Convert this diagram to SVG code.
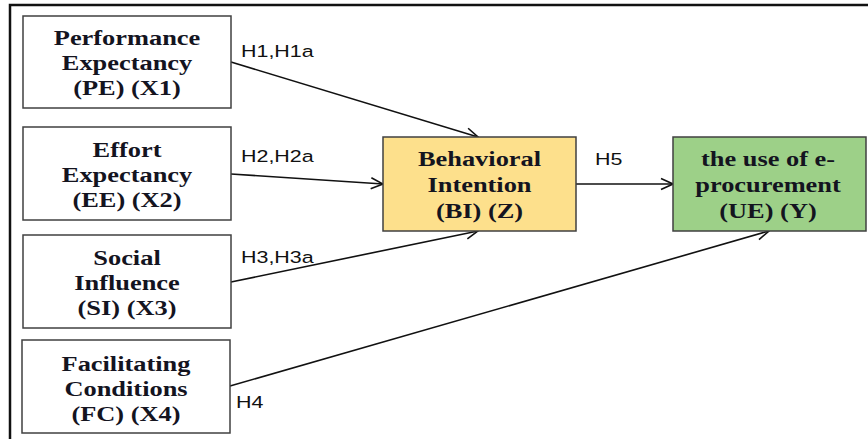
<svg xmlns="http://www.w3.org/2000/svg" width="868" height="439" viewBox="0 0 868 439">
<style>
.box{fill:#ffffff;stroke:#404040;stroke-width:1.5}
.bi{fill:#fde08c;stroke:#404040;stroke-width:1.5}
.ue{fill:#9dd088;stroke:#404040;stroke-width:1.5}
.n{font-family:"Liberation Serif","Times New Roman",serif;font-weight:bold;font-size:22px;fill:#14141f;text-anchor:middle}
.l{font-family:"Liberation Sans",Arial,sans-serif;font-size:16.5px;fill:#111111}
.c{fill:none;stroke:#111111;stroke-width:1.6}
.frame{fill:none;stroke:#111111;stroke-width:2.5}
</style>
<defs>
<marker id="arr" markerUnits="userSpaceOnUse" viewBox="0 0 14 14" refX="13" refY="7" markerWidth="14" markerHeight="14" orient="auto">
<path d="M1,1.5 L13,7 L1,12.5" fill="none" stroke="#111111" stroke-width="1.6"/>
</marker>
</defs>
<path class="frame" d="M10,439 L10,5 L868,5"/>
<g id="connectors">
<line class="c" x1="231" y1="62" x2="478" y2="137" marker-end="url(#arr)"/>
<line class="c" x1="231" y1="174" x2="383" y2="184" marker-end="url(#arr)"/>
<line class="c" x1="231" y1="282" x2="478" y2="231" marker-end="url(#arr)"/>
<line class="c" x1="230" y1="386" x2="769" y2="231" marker-end="url(#arr)"/>
<line class="c" x1="576" y1="184" x2="673" y2="184" marker-end="url(#arr)"/>
<text class="l" transform="matrix(1.3,0,0,1,241,0)" x="0" y="57">H1,H1a</text>
<text class="l" transform="matrix(1.3,0,0,1,241,0)" x="0" y="162">H2,H2a</text>
<text class="l" transform="matrix(1.3,0,0,1,241,0)" x="0" y="263">H3,H3a</text>
<text class="l" transform="matrix(1.3,0,0,1,236,0)" x="0" y="408">H4</text>
<text class="l" transform="matrix(1.3,0,0,1,595,0)" x="0" y="165">H5</text>
</g>
<g id="PE">
<rect class="box" x="23" y="16" width="208" height="92"/>
<text class="n" transform="matrix(1.2,0,0,1,127,0)"><tspan x="0" y="45">Performance</tspan><tspan x="0" y="70">Expectancy</tspan><tspan x="0" y="95">(PE) (X1)</tspan></text>
</g>
<g id="EE">
<rect class="box" x="23" y="127" width="208" height="93"/>
<text class="n" transform="matrix(1.2,0,0,1,127,0)"><tspan x="0" y="157">Effort</tspan><tspan x="0" y="182">Expectancy</tspan><tspan x="0" y="207">(EE) (X2)</tspan></text>
</g>
<g id="SI">
<rect class="box" x="23" y="235" width="208" height="93"/>
<text class="n" transform="matrix(1.2,0,0,1,127,0)"><tspan x="0" y="265">Social</tspan><tspan x="0" y="290">Influence</tspan><tspan x="0" y="315">(SI) (X3)</tspan></text>
</g>
<g id="FC">
<rect class="box" x="22" y="340" width="208" height="93"/>
<text class="n" transform="matrix(1.2,0,0,1,126,0)"><tspan x="0" y="371">Facilitating</tspan><tspan x="0" y="396">Conditions</tspan><tspan x="0" y="421">(FC) (X4)</tspan></text>
</g>
<g id="BI">
<rect class="bi" x="383" y="137" width="193" height="94"/>
<text class="n" transform="matrix(1.2,0,0,1,479.5,0)"><tspan x="0" y="166">Behavioral</tspan><tspan x="0" y="192">Intention</tspan><tspan x="0" y="218">(BI) (Z)</tspan></text>
</g>
<g id="UE">
<rect class="ue" x="673" y="137" width="193" height="94"/>
<text class="n" transform="matrix(1.2,0,0,1,768,0)"><tspan x="0" y="166">the use of e-</tspan><tspan x="0" y="192">procurement</tspan><tspan x="0" y="218">(UE) (Y)</tspan></text>
</g>
</svg>
